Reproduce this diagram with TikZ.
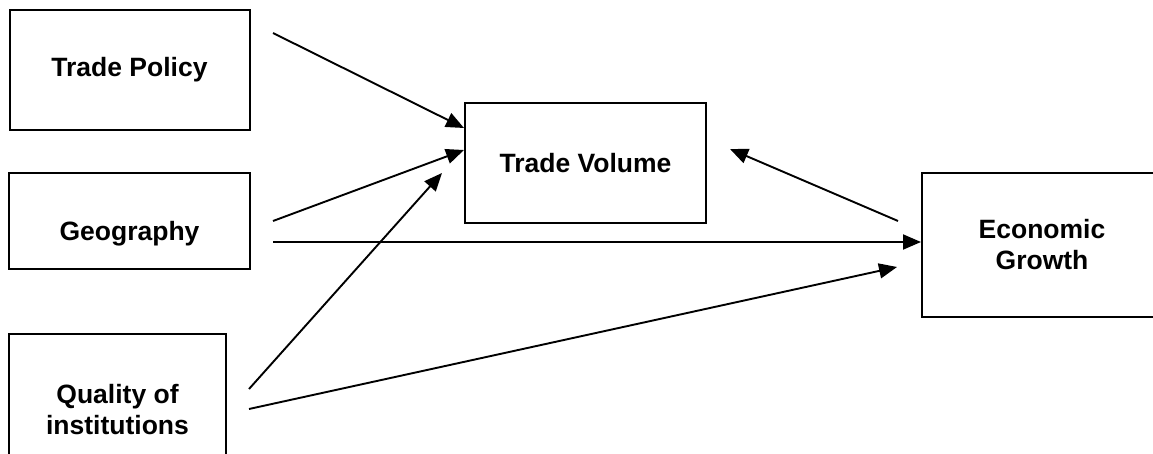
\documentclass[tikz,border=0pt]{standalone}
\usepackage{fontspec}
\setmainfont{Liberation Sans}
\usetikzlibrary{arrows.meta}
\begin{document}
\begin{tikzpicture}[x=1pt,y=-1pt,
  box/.style={draw, line width=2pt, inner sep=0pt, align=center,
    font=\bfseries\fontsize{26.5}{31}\selectfont},
  conn/.style={line width=1.9pt, -{Triangle[length=18pt,width=15pt]}}]
\useasboundingbox (0,0) rectangle (1153,454);

\node[box, minimum width=240pt, minimum height=120pt] (tp) at (129.5,70) {Trade Policy};
\node[box, minimum width=241pt, minimum height=96pt, text height=46pt, text depth=6pt] (geo) at (129.5,221) {Geography};
\node[box, minimum width=217pt, minimum height=152pt] (qi) at (117.5,410) {Quality of\\institutions};
\node[box, minimum width=241pt, minimum height=120pt] (tv) at (585.5,163) {Trade Volume};
\node[box, minimum width=240pt, minimum height=144pt] (eg) at (1042,245) {Economic\\Growth};

\coordinate (s1) at (273,33);
\coordinate (s2) at (273,221);
\coordinate (s3) at (249,389);
\coordinate (t3) at (442,173);
\coordinate (s4) at (273,242);
\coordinate (s5) at (249,409);
\coordinate (t5) at (897,267);
\coordinate (s6) at (898,221);
\coordinate (t6) at (730,149);

\draw[conn] (s1) -- ([yshift=35pt]tv.west);
\draw[conn] (s2) -- ([yshift=13pt]tv.west);
\draw[conn] (s3) -- (t3);
\draw[conn] (s4) -- (s4 -| eg.west);
\draw[conn] (s5) -- (t5);
\draw[conn] (s6) -- (t6);
\end{tikzpicture}
\end{document}
